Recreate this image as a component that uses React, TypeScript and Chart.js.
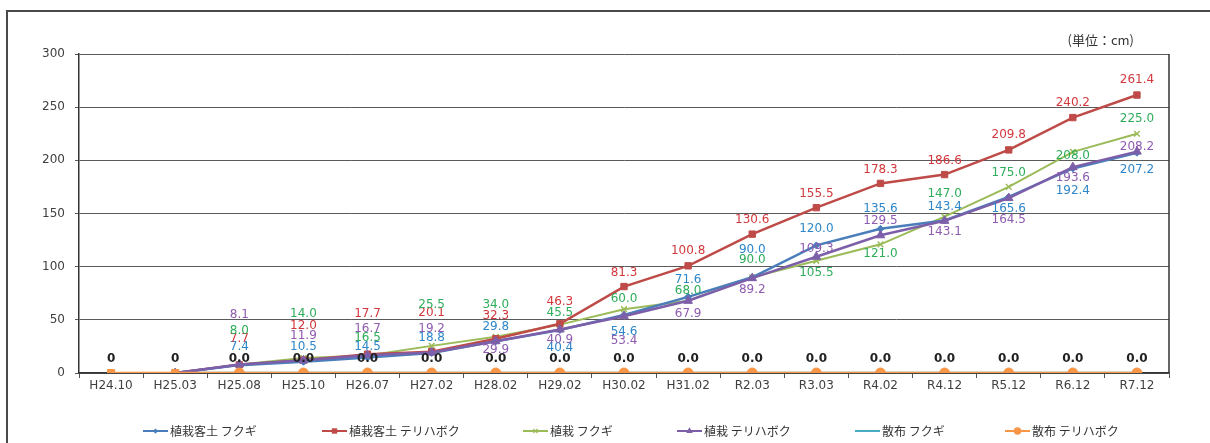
import React, { useEffect, useRef } from "react";
import { Chart, registerables } from "chart.js";

Chart.register(...registerables);

// ---- data ----
const categories = [
  "H24.10", "H25.03", "H25.08", "H25.10", "H26.07", "H27.02", "H28.02", "H29.02", "H30.02",
  "H31.02", "R2.03", "R3.03", "R4.02", "R4.12", "R5.12", "R6.12", "R7.12",
];
const seriesNames = [
  "植栽客土 フクギ",
  "植栽客土 テリハボク",
  "植栽 フクギ",
  "植栽 テリハボク",
  "散布 フクギ",
  "散布 テリハボク",
];
const soilFukugi = [null, 0, 7.4, 10.5, 14.5, 18.8, 29.8, 40.4, 54.6, 71.6, 90.0, 120.0, 135.6, 143.4, 165.6, 192.4, 207.2];
const soilTeriha = [null, 0, 7.7, 12.0, 17.7, 20.1, 32.3, 46.3, 81.3, 100.8, 130.6, 155.5, 178.3, 186.6, 209.8, 240.2, 261.4];
const plantFukugi = [null, 0, 8.0, 14.0, 16.5, 25.5, 34.0, 45.5, 60.0, 68.0, 90.0, 105.5, 121.0, 147.0, 175.0, 208.0, 225.0];
const plantTeriha = [null, 0, 8.1, 11.9, 16.7, 19.2, 29.9, 40.9, 53.4, 67.9, 89.2, 109.3, 129.5, 143.1, 164.5, 193.6, 208.2];
const seedFukugi = [null, 0, 0, 0, 0, 0, 0, 0, 0, 0, 0, 0, 0, 0, 0, 0, 0];
const seedTeriha = [0, 0, 0, 0, 0, 0, 0, 0, 0, 0, 0, 0, 0, 0, 0, 0, 0];
const yTicks = [0, 50, 100, 150, 200, 250, 300];
const unitLabel = "(単位：cm)";

// ---- styles (label offsets in px relative to each point; null = no label) ----
const lineColors = ["#4A7EBB", "#BE4B48", "#9BBB59", "#7D5FA9", "#4BACC6", "#F79646"];
const labelColors = ["#2F86C8", "#D2383C", "#2EAD5A", "#8E5BB0", null, "#222222"];
const pointStyles: any[] = ["rectRot", "rect", "crossRot", "triangle", false, "circle"];
const pointRadii = [3.5, 4.5, 4, 5, 0, 5];
const lineWidths = [2.5, 2.5, 2, 2.5, 2.5, 2.5];
const drawOrders = [2, 3, 4, 1, 5, 0];
const labelOffsets: (number | null)[][] = [
  [null, null, -18, -15, -11, -15, -14, 18, 17, -17, -27, -17, -20, -14, 12, 22, 17],
  [null, null, -26, -34, -40, -39, -23, -22, -14, -15, -14, -14, -14, -14, -15, -15, -15],
  [null, null, -34, -44, -18, -41, -32, -12, -10, -10, -17, 12, 10, -23, -14, 4, -15],
  [null, null, -50, -24, -26, -24, 9, 10, 25, 13, 12, -8, -14, 11, 22, 11, -5],
  [],
  [-14, -14, -14, -14, -14, -14, -14, -14, -14, -14, -14, -14, -14, -14, -14, -14, -14],
];
const legendX = [143, 322, 523, 677, 855, 1005];
const legendY = 431;

function drawMarker(ctx: CanvasRenderingContext2D, style: any, x: number, y: number, r: number, color: string) {
  if (!style) return;
  ctx.save();
  ctx.fillStyle = color;
  ctx.strokeStyle = color;
  ctx.lineWidth = 1.2;
  ctx.beginPath();
  if (style === "rectRot") {
    ctx.moveTo(x, y - r); ctx.lineTo(x + r, y); ctx.lineTo(x, y + r); ctx.lineTo(x - r, y); ctx.closePath(); ctx.fill();
  } else if (style === "rect") {
    ctx.rect(x - r * 0.8, y - r * 0.8, r * 1.6, r * 1.6); ctx.fill();
  } else if (style === "crossRot") {
    const d = r * 0.7;
    ctx.moveTo(x - d, y - d); ctx.lineTo(x + d, y + d); ctx.moveTo(x + d, y - d); ctx.lineTo(x - d, y + d); ctx.stroke();
  } else if (style === "triangle") {
    ctx.moveTo(x, y - r); ctx.lineTo(x + r * 0.87, y + r * 0.5); ctx.lineTo(x - r * 0.87, y + r * 0.5); ctx.closePath(); ctx.fill();
  } else if (style === "circle") {
    ctx.arc(x, y, r, 0, Math.PI * 2); ctx.fill();
  }
  ctx.restore();
}

const decorPlugin = {
  id: "decor",
  beforeDraw(chart: any) {
    const ctx = chart.ctx;
    ctx.save();
    ctx.strokeStyle = "#4a4a4a";
    ctx.lineWidth = 2;
    ctx.beginPath();
    ctx.moveTo(7, 443);
    ctx.lineTo(7, 11);
    ctx.lineTo(1210, 11);
    ctx.stroke();
    ctx.restore();
  },
  afterDatasetsDraw(chart: any) {
    const ctx = chart.ctx;
    const area = chart.chartArea;
    // right border of plot area
    ctx.save();
    ctx.strokeStyle = "#333";
    ctx.lineWidth = 1.5;
    ctx.beginPath();
    ctx.moveTo(area.right, area.top);
    ctx.lineTo(area.right, area.bottom);
    ctx.stroke();
    ctx.restore();

    // value labels
    chart.data.datasets.forEach((ds: any, i: number) => {
      const offs = labelOffsets[i];
      const color = labelColors[i];
      if (!offs || !color) return;
      const meta = chart.getDatasetMeta(i);
      ctx.save();
      ctx.fillStyle = color;
      ctx.font = i === 5 ? "bold 12px 'DejaVu Sans'" : "12px 'DejaVu Sans'";
      ctx.textAlign = "center";
      ctx.textBaseline = "middle";
      meta.data.forEach((pt: any, j: number) => {
        const v = ds.data[j];
        const o = offs[j];
        if (v == null || o == null) return;
        const text = i === 5 && j < 2 ? String(v) : Number(v).toFixed(1);
        ctx.fillText(text, pt.x, pt.y + o);
      });
      ctx.restore();
    });
  },
  afterDraw(chart: any) {
    const ctx = chart.ctx;
    ctx.save();
    // unit label
    ctx.fillStyle = "#333";
    ctx.font = "13px 'Noto Sans CJK JP'";
    ctx.textAlign = "right";
    ctx.textBaseline = "middle";
    ctx.fillText(unitLabel, 1134, 40);
    // legend
    ctx.textAlign = "left";
    ctx.font = "12px 'Noto Sans CJK JP'";
    seriesNames.forEach((name, i) => {
      const x = legendX[i];
      ctx.strokeStyle = lineColors[i];
      ctx.lineWidth = 2;
      ctx.beginPath();
      ctx.moveTo(x, legendY);
      ctx.lineTo(x + 25, legendY);
      ctx.stroke();
      drawMarker(ctx, pointStyles[i], x + 12.5, legendY, Math.max(2.5, pointRadii[i] * 0.75), lineColors[i]);
      ctx.fillStyle = "#333";
      ctx.fillText(name, x + 27, legendY);
    });
    ctx.restore();
  },
};

export default function App() {
  const ref = useRef<HTMLCanvasElement | null>(null);

  useEffect(() => {
    if (!ref.current) return;
    const seriesData = [soilFukugi, soilTeriha, plantFukugi, plantTeriha, seedFukugi, seedTeriha];
    const tickFont = { family: "'DejaVu Sans'", size: 12 };
    const chart = new Chart(ref.current, {
      type: "line",
      data: {
        labels: categories,
        datasets: seriesData.map((d, i) => ({
          label: seriesNames[i],
          data: d,
          borderColor: lineColors[i],
          backgroundColor: lineColors[i],
          borderWidth: lineWidths[i],
          pointStyle: i === 5 ? (c: any) => (c.dataIndex < 2 ? "rect" : "circle") : pointStyles[i],
          pointRadius: pointRadii[i],
          pointBorderWidth: i === 2 ? 1.5 : 1,
          pointBorderColor: lineColors[i],
          pointBackgroundColor: lineColors[i],
          tension: 0,
          spanGaps: false,
          order: drawOrders[i],
        })) as any,
      },
      options: {
        animation: false,
        responsive: false,
        devicePixelRatio: 1,
        layout: { padding: { left: 0, right: 41, top: 54, bottom: 40 } },
        plugins: { legend: { display: false }, tooltip: { enabled: false } },
        scales: {
          x: {
            offset: true,
            grid: { offset: true, drawOnChartArea: false, drawTicks: true, tickLength: 5, color: "#555" },
            border: { display: true, color: "#333", width: 1.5 },
            ticks: { font: tickFont, color: "#404040", padding: 1, maxRotation: 0, autoSkip: false },
            afterFit(s: any) { s.height = 30; },
          },
          y: {
            min: yTicks[0],
            max: yTicks[yTicks.length - 1],
            afterBuildTicks(s: any) { s.ticks = yTicks.map((v) => ({ value: v })); },
            ticks: { font: tickFont, color: "#404040", padding: 10 },
            grid: { color: "#5a5a5a", lineWidth: 1, tickLength: 4, drawTicks: true },
            border: { display: true, color: "#333", width: 1.5 },
            afterFit(s: any) { s.width = 79; },
          },
        },
      },
      plugins: [decorPlugin],
    });
    return () => chart.destroy();
  }, []);

  return (
    <div style={{ position: "absolute", left: 0, top: 0, width: 1210, height: 443, background: "#fff" }}>
      <canvas ref={ref} width={1210} height={443} style={{ width: 1210, height: 443, display: "block" }} />
    </div>
  );
}
